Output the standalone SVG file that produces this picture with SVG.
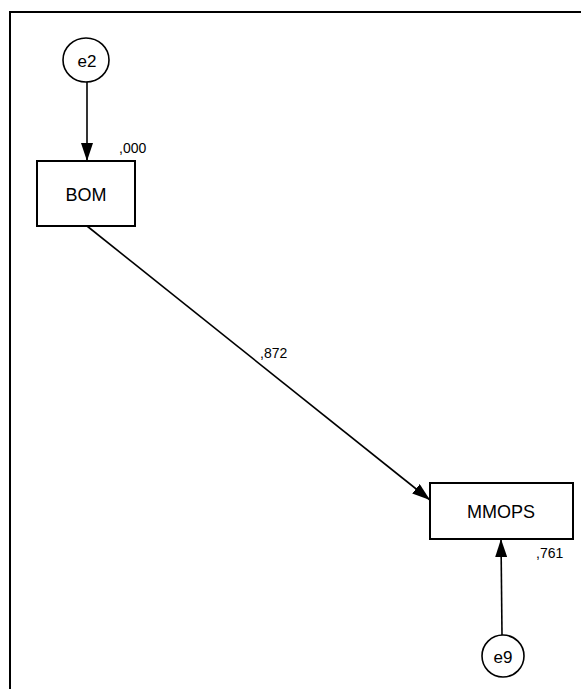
<svg xmlns="http://www.w3.org/2000/svg" width="581" height="689" viewBox="0 0 581 689">
<style>
.node{fill:#fff;stroke:#000;stroke-width:2}
.err{fill:#fff;stroke:#000;stroke-width:1.6}
.lbl{font-family:"Liberation Sans",Arial,sans-serif;font-size:18px;fill:#000;text-anchor:middle}
.elbl{font-family:"Liberation Sans",Arial,sans-serif;font-size:17px;fill:#000;text-anchor:middle}
.num{font-family:"Liberation Sans",Arial,sans-serif;font-size:14px;fill:#000}
.edge{stroke:#000;stroke-width:1.6;fill:none;marker-end:url(#ah)}
</style>
<defs>
<marker id="ah" viewBox="0 0 18 12" refX="18" refY="6" markerWidth="18" markerHeight="12" markerUnits="userSpaceOnUse" orient="auto">
<path d="M0,0 L18,6 L0,12 Z" fill="#000"/>
</marker>
</defs>
<rect width="581" height="689" fill="#fff"/>
<path d="M10,689 L10,12 L581,12" fill="none" stroke="#000" stroke-width="2"/>
<g id="connectors">
<line class="edge" x1="87" y1="82" x2="87" y2="161"/>
<line class="edge" x1="87" y1="226" x2="430" y2="500"/>
<line class="edge" x1="502" y1="635" x2="501" y2="539"/>
</g>
<g id="e2">
<ellipse class="err" cx="86" cy="60" rx="23" ry="22"/>
<text class="elbl" x="87" y="67">e2</text>
</g>
<g id="BOM">
<rect class="node" x="37" y="161" width="98" height="65"/>
<text class="lbl" x="86" y="201">BOM</text>
<text class="num" x="119" y="153">,000</text>
</g>
<g id="MMOPS">
<rect class="node" x="430" y="483" width="143" height="56"/>
<text class="lbl" x="501" y="518">MMOPS</text>
<text class="num" x="536" y="558">,761</text>
</g>
<g id="e9">
<ellipse class="err" cx="503" cy="656" rx="21" ry="21"/>
<text class="elbl" x="503" y="663">e9</text>
</g>
<text class="num" x="260" y="358">,872</text>
</svg>
